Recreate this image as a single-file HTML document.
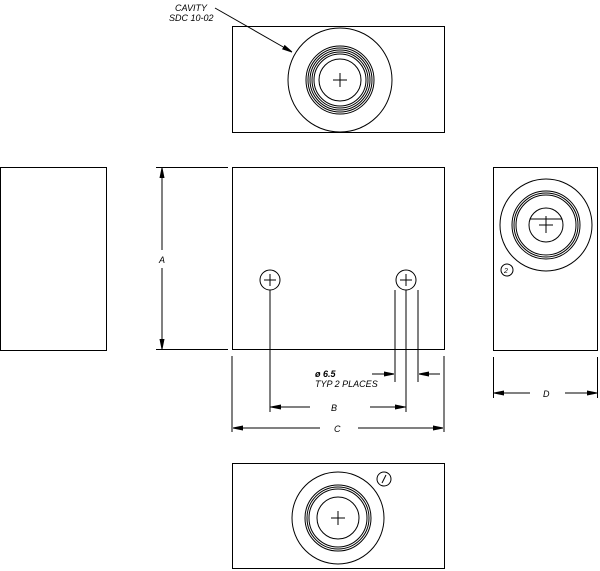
<!DOCTYPE html>
<html><head><style>body{margin:0;background:#fff}svg{display:block}text{font-family:"Liberation Sans",sans-serif;font-style:italic;font-size:9px;fill:#000}</style></head><body>
<svg width="600" height="571" viewBox="0 0 600 571" fill="none" stroke="#000" stroke-width="1">
<defs><marker id="ar" markerWidth="10" markerHeight="6" refX="10" refY="3" orient="auto" markerUnits="userSpaceOnUse"><path d="M0,1 L10,3 L0,5z" fill="#000"/></marker></defs>
<!-- top view -->
<rect x="232.5" y="26.5" width="212" height="106"/>
<circle cx="340" cy="80" r="52"/>
<circle cx="340" cy="80" r="34"/><circle cx="340" cy="80" r="32"/><circle cx="340" cy="80" r="30"/><circle cx="340" cy="80" r="28"/><circle cx="340" cy="80" r="26"/><circle cx="340" cy="80" r="21"/>
<path d="M333 80h14M340 73v14"/>
<path d="M215 8 L292 52" marker-end="url(#ar)"/>
<text x="175" y="11" stroke="none">CAVITY</text>
<text x="169" y="21" stroke="none">SDC 10-02</text>
<!-- left -->
<rect x="0.5" y="167.5" width="106" height="183"/>
<!-- main -->
<rect x="232.5" y="167.5" width="212" height="182"/>
<circle cx="270" cy="280" r="10"/><path d="M264 280h12M270 274v12"/>
<circle cx="406" cy="280" r="10"/><path d="M400 280h12M406 274v12"/>
<path d="M270 290V412M406 290V412M395 290V382M418 290V382"/>
<path d="M270 407H310M370 407H406" />
<path d="M310 407H271" marker-end="url(#ar)"/><path d="M370 407H405" marker-end="url(#ar)"/>
<text x="331" y="411" stroke="none">B</text>
<path d="M232 356V432M444 356V432"/>
<path d="M320 428H233" marker-end="url(#ar)"/><path d="M358 428H443" marker-end="url(#ar)"/>
<text x="334" y="432" stroke="none">C</text>
<path d="M372 374H394" marker-end="url(#ar)"/><path d="M440 374H419" marker-end="url(#ar)"/>
<text x="315" y="377" stroke="none" style="font-weight:bold">ø 6.5</text>
<text x="315" y="387" stroke="none">TYP 2 PLACES</text>
<!-- A -->
<path d="M156 167.5H228M156 349.5H228"/>
<path d="M162 250V168" marker-end="url(#ar)"/><path d="M162 268V349" marker-end="url(#ar)"/>
<text x="159" y="263" stroke="none">A</text>
<!-- right -->
<rect x="493.5" y="167.5" width="104" height="183"/>
<circle cx="546" cy="225" r="46"/>
<circle cx="546" cy="225" r="34"/><circle cx="546" cy="225" r="32"/><circle cx="546" cy="225" r="30"/>
<circle cx="546" cy="225" r="17"/>
<path d="M530 219h32M539 225h14M546 216v17"/>
<circle cx="507" cy="270" r="6"/><text x="504" y="273" stroke="none" style="font-size:7px">2</text>
<path d="M493.5 357V398M597.5 357V398"/>
<path d="M530 393H494" marker-end="url(#ar)"/><path d="M565 393H597" marker-end="url(#ar)"/>
<text x="543" y="397" stroke="none">D</text>
<!-- bottom -->
<rect x="232.5" y="463.5" width="212" height="105"/>
<circle cx="338" cy="518" r="46"/>
<circle cx="338" cy="518" r="33"/><circle cx="338" cy="518" r="31"/><circle cx="338" cy="518" r="29"/>
<circle cx="338" cy="518" r="21"/>
<path d="M331 518h14M338 511v14"/>
<circle cx="384" cy="479" r="7"/><path d="M382 483l4-8"/>
</svg>
</body></html>
